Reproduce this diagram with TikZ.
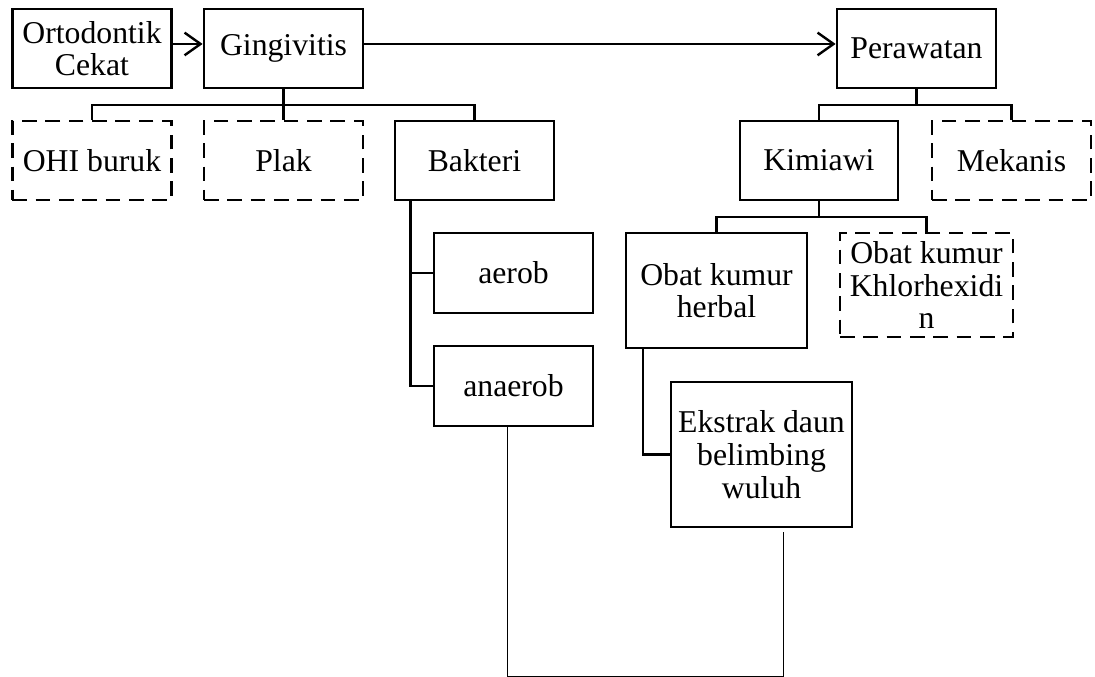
\documentclass[tikz,border=0pt]{standalone}
\usepackage{fontspec}
\setmainfont{Liberation Serif}
\usetikzlibrary{arrows.meta}
\usetikzlibrary{calc}

\begin{document}
\begin{tikzpicture}[
	x = 0.75pt, y = -0.75pt,
	block/.style = {
	  draw, line width = 1.8pt,
	  minimum width = 119.5pt, minimum height = 59.25pt,
	  inner sep = 0pt, align = center,
	  font = \fontsize{23.8}{24.5}\selectfont,
	},
	dblock/.style = {
	  block, dash pattern = on 11pt off 6.5pt,
	},
	link/.style = {line width = 1.8pt},
	lowline/.style = {line width = 0.7pt},
  ]
  \useasboundingbox (0,0) rectangle (1095,677);

  \node[block] (ort) at (92,48.5) {Ortodontik\\Cekat};
  \node[block] (gin) at (283.5,48.5) {Gingivitis};
  \node[block] (per) at (916.5,48.5) {Perawatan};
  \node[dblock] (ohi) at (92,160.5) {OHI buruk};
  \node[dblock] (plak) at (283.5,160.5) {Plak};
  \node[block] (bak) at (474.5,160.5) {Bakteri};
  \node[block, minimum width = 118.5pt] (kim) at (819,160.5) {Kimiawi};
  \node[dblock] (mek) at (1011.5,160.5) {Mekanis};
  \node[block, minimum height = 60pt] (aer) at (513.5,273) {aerob};
  \node[block, minimum height = 60pt] (ana) at (513.5,386) {anaerob};
  \node[block, minimum width = 135.75pt, minimum height = 86.25pt]
	(herb) at (716.5,290.5) {Obat kumur\\herbal};
  \node[dblock, minimum width = 129.75pt, minimum height = 78pt]
	(khl) at (926.5,285) {Obat kumur\\Khlorhexidi\\n};
  \node[block, minimum width = 135.75pt, minimum height = 108.75pt]
	(eks) at (761.5,454.5) {Ekstrak daun\\belimbing\\wuluh};

  \coordinate (gbus) at (283.5,105);
  \coordinate (pbus) at (916.5,105);
  \coordinate (kbus) at (819,217);
  \coordinate (lowL) at (507,676.5);
  \coordinate (lowR) at (783,676.5);
  \coordinate (eksend) at (783,532);

  \draw[link, -{Straight Barb[length=12pt, width=17pt]}]
	([yshift=3.4pt]ort.east) -- ([yshift=3.4pt]gin.west);
  \draw[link, -{Straight Barb[length=12pt, width=17pt]}]
	([yshift=3.4pt]gin.east) -- ([yshift=3.4pt]per.west);

  \draw[link] (gin.south) -- (plak.north);
  \draw[link] (ohi.north) |- (gbus) -| (bak.north);
  \draw[link] (per.south) -- (pbus);
  \draw[link] (kim.north) |- (pbus) -| (mek.north);
  \draw[link] (kim.south) -- (kbus);
  \draw[link] (herb.north) |- (kbus) -| (khl.north);

  \draw[link] (bak.south west) ++(17,0) |- (aer.west);
  \draw[link] (bak.south west) ++(17,0) |- (ana.west);
  \draw[link] (herb.south west) ++(18,0) |- (eks.west);

  \draw[lowline] (ana.south -| lowL) -- (lowL) -- (lowR) -- (eksend);
\end{tikzpicture}
\end{document}
